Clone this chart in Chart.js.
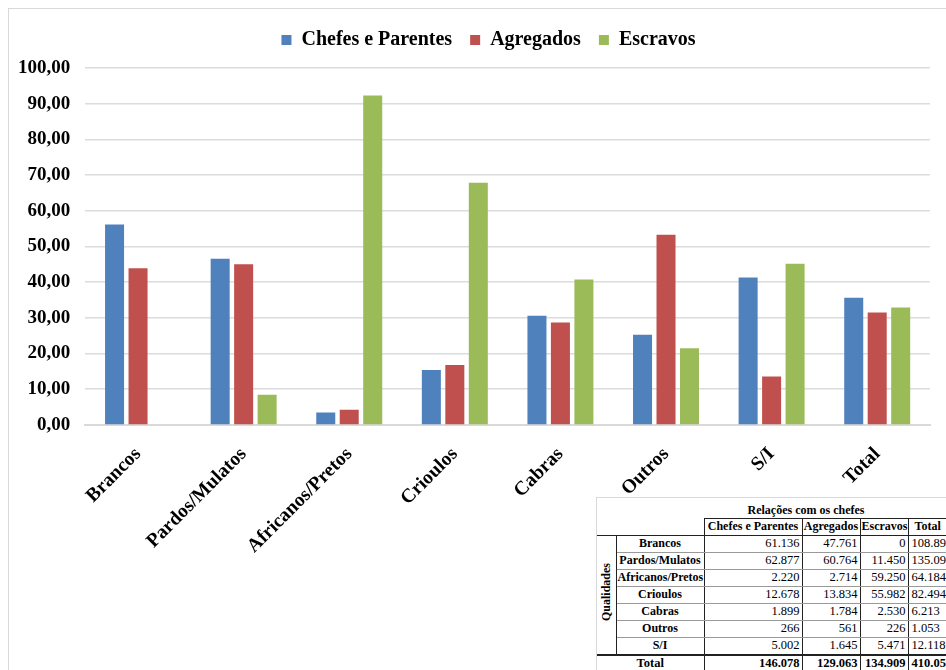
<!DOCTYPE html>
<html>
<head>
<meta charset="utf-8">
<script src="https://cdn.jsdelivr.net/npm/chart.js@4.4.1/dist/chart.umd.min.js"></script>
<style>
  html, body { margin: 0; padding: 0; background: #fff; overflow: hidden; }
  body { width: 946px; height: 670px; position: relative; }
  #frame { position: absolute; left: 8px; top: 8px; width: 1000px; height: 700px;
           border-left: 1px solid #d9d9d9; border-top: 1px solid #d9d9d9; }
  #myChart { position: absolute; left: 0; top: 0; }
  #tbl { position: absolute; left: 596px; top: 497px; width: 400px; height: 200px;
         background: #fff; border: 1px solid #d9d9d9; box-sizing: border-box; }
  #tbl table { border-collapse: collapse; font-family: "Liberation Serif", "Times New Roman", serif;
               font-size: 12px; color: #000; table-layout: fixed; width: 363px; }
  #tbl td { padding: 0 2px; height: 16px; line-height: 15px; white-space: nowrap; overflow: hidden; }
  #tbl .hd { font-weight: bold; text-align: center; padding: 0 1px; }
  #tbl .num { text-align: right; border-left: 1.5px solid #222; border-right: 1.5px solid #222;
              border-bottom: 1px solid #999; font-size: 12.5px; }
  #tbl .nm { font-weight: bold; text-align: center; border-left: 1.5px solid #222; padding: 0 1px;
             border-right: 1.5px solid #222; border-bottom: 1px solid #999; }
  #tbl .q { border-right: 1.5px solid #222; text-align: center; vertical-align: middle; padding: 0; }
  #tbl .q span { display: inline-block; writing-mode: vertical-rl; transform: rotate(180deg); font-weight: bold; }
  #tbl .tot td { font-weight: bold; border-top: 2px solid #222; font-size: 12.5px; }
</style>
</head>
<body>
<div id="frame"></div>
<canvas id="myChart" width="946" height="670"></canvas>
<div id="tbl"></div>
<script>
const categories = ["Brancos", "Pardos/Mulatos", "Africanos/Pretos", "Crioulos", "Cabras", "Outros", "S/I", "Total"];
const chefes = [56.14, 46.54, 3.46, 15.37, 30.57, 25.26, 41.28, 35.62];
const agregados = [43.86, 44.98, 4.23, 16.77, 28.71, 53.28, 13.57, 31.48];
const escravos = [0, 8.48, 92.31, 67.86, 40.72, 21.46, 45.15, 32.9];

// table under the chart
const tableRows = ["Brancos", "Pardos/Mulatos", "Africanos/Pretos", "Crioulos", "Cabras", "Outros", "S/I"];
const tChefes = ["61.136", "62.877", "2.220", "12.678", "1.899", "266", "5.002"];
const tAgregados = ["47.761", "60.764", "2.714", "13.834", "1.784", "561", "1.645"];
const tEscravos = ["0", "11.450", "59.250", "55.982", "2.530", "226", "5.471"];
const tTotal = ["108.897", "135.091", "64.184", "82.494", "6.213", "1.053", "12.118"];
const tTotalRow = ["146.078", "129.063", "134.909", "410.050"];

const B = "1.5px solid #222";
let html = '<table><colgroup><col style="width:19px"><col style="width:88px"><col style="width:98px">' +
  '<col style="width:58px"><col style="width:48px"><col style="width:52px"></colgroup>';
html += '<tr><td colspan="2" style="height:20px"></td><td colspan="3" class="hd" style="border-bottom:' + B +
  ';vertical-align:bottom">Relações com os chefes</td><td style="border-bottom:' + B + '"></td></tr>';
html += '<tr style="border-bottom:' + B + '"><td colspan="2"></td>' +
  '<td class="hd" style="border-left:' + B + '">Chefes e Parentes</td>' +
  '<td class="hd" style="border-left:' + B + '">Agregados</td>' +
  '<td class="hd" style="border-left:' + B + '">Escravos</td>' +
  '<td class="hd" style="border-left:' + B + ';text-align:left;padding-left:6px">Total</td></tr>';
tableRows.forEach((r, i) => {
  html += '<tr>';
  if (i === 0) html += '<td rowspan="7" class="q"><span>Qualidades</span></td>';
  html += '<td class="nm">' + r + '</td><td class="num">' + tChefes[i] + '</td><td class="num">' +
    tAgregados[i] + '</td><td class="num">' + tEscravos[i] + '</td><td class="num" style="text-align:left;padding-left:3px">' +
    tTotal[i] + '</td></tr>';
});
html += '<tr class="tot"><td colspan="2" class="hd" style="text-align:center">Total</td>';
tTotalRow.forEach((v, i) => {
  html += '<td style="text-align:' + (i === 3 ? 'left;padding-left:3px' : 'right') + ';border-left:' + B + '">' + v + '</td>';
});
html += '</tr></table>';
document.getElementById("tbl").innerHTML = html;

const chart = document.getElementById("myChart");

// extra room under the legend, and legend moved a bit to the right
const legendGap = {
  id: "legendGap",
  beforeInit(c) {
    const fit = c.legend.fit;
    c.legend.fit = function () {
      fit.call(this);
      this.height += 8;
    };
  },
  afterLayout(c) {
    c.legend.left = 47;
  },
};

const data01 = {
  labels: categories,
  datasets: [
    { label: "Chefes e Parentes", data: chefes, backgroundColor: "#4F81BD" },
    { label: "Agregados", data: agregados, backgroundColor: "#C0504D" },
    { label: "Escravos", data: escravos, backgroundColor: "#9BBB59" },
  ],
};

const serif = "'Liberation Serif', 'Times New Roman', serif";

const config01 = {
  type: "bar",
  data: data01,
  options: {
    responsive: false,
    animation: false,
    categoryPercentage: 0.667,
    barPercentage: 0.81,
    layout: { padding: { top: 12, left: 3, right: 16, bottom: 102 } },
    plugins: {
      tooltip: { enabled: false },
      legend: {
        display: true,
        position: "top",
        labels: {
          boxWidth: 10,
          boxHeight: 10,
          padding: 18,
          color: "#000",
          font: { family: serif, size: 20, weight: "bold" },
        },
      },
    },
    scales: {
      x: {
        grid: { display: false },
        border: { color: "#d9d9d9", width: 2 },
        afterFit(axis) {
          axis.paddingLeft = 0;
          axis.paddingRight = 0;
        },
        ticks: {
          color: "#000",
          minRotation: 45,
          maxRotation: 45,
          padding: 10,
          font: { family: serif, size: 19.5, weight: "bold" },
        },
      },
      y: {
        min: 0,
        max: 100,
        border: { display: false },
        grid: { color: "#dcdcdc", lineWidth: 1.5, drawTicks: false },
        ticks: {
          stepSize: 10,
          padding: 15,
          color: "#000",
          font: { family: serif, size: 19, weight: "bold" },
          callback: (v) => v.toFixed(2).replace(".", ","),
        },
      },
    },
  },
  plugins: [legendGap],
};

const chart01 = new Chart(chart, config01);
</script>
</body>
</html>
